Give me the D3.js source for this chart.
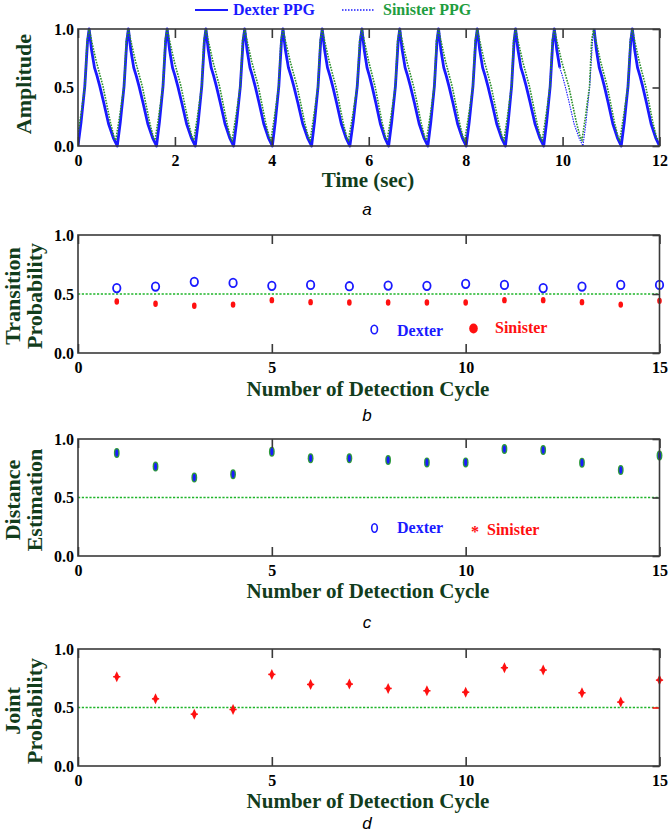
<!DOCTYPE html>
<html><head><meta charset="utf-8">
<script src="https://cdn.jsdelivr.net/npm/d3@7/dist/d3.min.js"></script>
<style>body{margin:0;background:#fff}svg{display:block}</style>
</head><body>
<svg id="chart" width="670" height="838"></svg>
<script>
// ---------------- data ----------------
const timeTicks = [0, 2, 4, 6, 8, 10, 12];
const cycleTicks = [0, 5, 10, 15];
const probTicks = [0, 0.5, 1.0];
const cycles = [1, 2, 3, 4, 5, 6, 7, 8, 9, 10, 11, 12, 13, 14, 15];
const thresholdValue = 0.5;

// Panel a: PPG beats (seconds)
const dexterTroughTimes = [0.0, 0.81, 1.62, 2.42, 3.21, 4.01, 4.82, 5.61, 6.41, 7.22, 8.01, 8.82, 9.61, 10.42, 11.21, 12.0];
const dexterPeakTimes = [0.23, 1.04, 1.84, 2.64, 3.44, 4.23, 5.04, 5.86, 6.64, 7.44, 8.24, 9.03, 9.83, 10.65, 11.44];
const sinisterTroughTimes = [-0.02, 0.78, 1.59, 2.39, 3.18, 3.98, 4.79, 5.58, 6.38, 7.19, 7.98, 8.79, 9.58, 10.40, 11.18, 11.97];
const sinisterPeakTimes = [0.23, 1.04, 1.84, 2.64, 3.44, 4.23, 5.04, 5.86, 6.64, 7.44, 8.24, 9.03, 9.83, 10.64, 11.44];
// pulse shapes: [fraction of segment, amplitude]
const dexterRiseShape = [[0, 0], [0.27, 0.2], [0.61, 0.51], [0.86, 0.9], [1, 1]];
const dexterFallShape = [[0, 1], [0.086, 0.82], [0.19, 0.67], [0.28, 0.6], [0.38, 0.51], [0.52, 0.37], [0.69, 0.19], [0.86, 0.07], [1, 0]];
const sinisterRiseShape = [[0, 0.05], [0.3, 0.25], [0.65, 0.51], [0.83, 0.9], [1, 1]];
const sinisterFallShape = [[0, 1], [0.09, 0.9], [0.27, 0.72], [0.52, 0.51], [0.8, 0.2], [0.93, 0.08], [1, 0.05]];
const dexterThinStretch = [9.95, 10.64];

// Panel b: transition probability
const transitionDexter = [0.55, 0.563, 0.603, 0.594, 0.569, 0.577, 0.566, 0.571, 0.569, 0.586, 0.577, 0.55, 0.563, 0.577, 0.577];
const transitionSinister = [0.436, 0.417, 0.40, 0.41, 0.448, 0.431, 0.428, 0.428, 0.428, 0.428, 0.448, 0.448, 0.431, 0.41, 0.442];
// Panel c: distance estimation
const distanceDexter = [0.88, 0.764, 0.67, 0.698, 0.892, 0.835, 0.835, 0.82, 0.80, 0.80, 0.915, 0.906, 0.798, 0.735, 0.858];
const distanceSinister = [0.88, 0.764, 0.67, 0.698, 0.892, 0.835, 0.835, 0.82, 0.80, 0.80, 0.915, 0.906, 0.798, 0.735, 0.858];
// Panel d: joint probability
const jointProbability = [0.763, 0.574, 0.443, 0.483, 0.783, 0.697, 0.70, 0.663, 0.643, 0.631, 0.84, 0.82, 0.626, 0.546, 0.734];

// ---------------- style ----------------
const L = 78, R = 659.5;
const frameColor = '#3a3a3a';
const titleColor = '#123d1c';
const blue = '#1a1aff', red = '#ff1010', green = '#2a8f2a', legendGreen = '#1f9d40';
const serif = "'Liberation Serif','Times New Roman',serif";

const svg = d3.select('#chart');

function buildWave(troughs, peaks, rise, fall) {
  const pts = [];
  peaks.forEach((p, i) => {
    const t0 = troughs[i], t1 = troughs[i + 1];
    rise.forEach(([f, a], j) => { if (i > 0 && j === 0) return; pts.push([t0 + f * (p - t0), a]); });
    fall.forEach(([f, a], j) => { if (j === 0) return; pts.push([p + f * (t1 - p), a]); });
  });
  return pts;
}

function frame(g, x, y, top, bottom, xTicks, yTicks, xFmt, rightTickColor) {
  const axB = d3.axisBottom(x).tickValues(xTicks).tickSize(-9).tickPadding(9).tickFormat(xFmt);
  const gb = g.append('g').attr('transform', `translate(0,${bottom})`).call(axB);
  const axT = d3.axisTop(x).tickValues(xTicks).tickSize(-9).tickFormat('');
  const gt = g.append('g').attr('transform', `translate(0,${top})`).call(axT);
  const axR = d3.axisRight(y).tickValues(yTicks).tickSize(-7).tickFormat('');
  const gr = g.append('g').attr('transform', `translate(${R},0)`).call(axR);
  const axL = d3.axisLeft(y).tickValues(yTicks).tickSize(0).tickPadding(4).tickFormat(d3.format('.1f'));
  const gl = g.append('g').attr('transform', `translate(${L},0)`).call(axL);
  [gb, gt, gr, gl].forEach(a => {
    a.select('.domain').remove();
    a.selectAll('line').attr('stroke', frameColor).attr('stroke-width', 1.6);
    a.selectAll('text').attr('fill', '#000').style('font-family', serif)
      .style('font-weight', 'bold').style('font-size', '16px');
  });
  if (rightTickColor) gr.selectAll('.tick').filter(d => d === 0.5).select('line').attr('stroke', rightTickColor);
  g.append('rect').attr('x', L).attr('y', top).attr('width', R - L).attr('height', bottom - top)
    .attr('fill', 'none').attr('stroke', frameColor).attr('stroke-width', 1.6);
}

function xTitle(text, yb) {
  svg.append('text').attr('x', 368).attr('y', yb).attr('text-anchor', 'middle')
    .style('font-family', serif).style('font-weight', 'bold').style('font-size', '21px')
    .attr('fill', titleColor).text(text);
}
function yTitle(lines, cy) {
  lines.forEach(([t, xb]) => {
    svg.append('text').attr('transform', `translate(${xb},${cy}) rotate(-90)`).attr('text-anchor', 'middle')
      .style('font-family', serif).style('font-weight', 'bold').style('font-size', '22px')
      .attr('fill', titleColor).text(t);
  });
}
function subLabel(t, yb) {
  svg.append('text').attr('x', 367).attr('y', yb).attr('text-anchor', 'middle')
    .style('font-family', "'Liberation Sans',Arial,sans-serif").style('font-style', 'italic')
    .style('font-size', '17px').attr('fill', '#000').text(t);
}
function legendText(t, x, yb, color) {
  svg.append('text').attr('x', x).attr('y', yb)
    .style('font-family', serif).style('font-weight', 'bold').style('font-size', '16px')
    .attr('fill', color).text(t);
}

// ---------------- panel a ----------------
{
  const top = 29, bottom = 146;
  const x = d3.scaleLinear().domain([0, 12]).range([L, R]);
  const y = d3.scaleLinear().domain([0, 1]).range([bottom, top]);
  svg.append('clipPath').attr('id', 'clipA').append('rect')
    .attr('x', L).attr('y', top - 2).attr('width', R - L).attr('height', bottom - top + 4);
  const g = svg.append('g');
  const dex = buildWave(dexterTroughTimes, dexterPeakTimes, dexterRiseShape, dexterFallShape);
  const sin = buildWave(sinisterTroughTimes, sinisterPeakTimes, sinisterRiseShape, sinisterFallShape);
  const line = d3.line().x(d => x(d[0])).y(d => y(d[1]));
  const pg = g.append('g').attr('clip-path', 'url(#clipA)');
  pg.append('path').attr('d', line(dex.filter(d => d[0] >= dexterThinStretch[0] - 0.06 && d[0] <= dexterThinStretch[1] + 0.02)))
    .attr('fill', 'none').attr('stroke', blue).attr('stroke-width', 1.1).attr('stroke-dasharray', '1.5,1');
  const thick = d3.line().defined(d => !(d[0] > dexterThinStretch[0] && d[0] < dexterThinStretch[1]))
    .x(d => x(d[0])).y(d => y(d[1]));
  pg.append('path').attr('d', thick(dex)).attr('fill', 'none').attr('stroke', blue)
    .attr('stroke-width', 2.8).attr('stroke-linejoin', 'round');
  pg.append('path').attr('d', line(sin)).attr('fill', 'none').attr('stroke', green)
    .attr('stroke-width', 1.6).attr('stroke-dasharray', '1.6,1.2');
  frame(g, x, y, top, bottom, timeTicks, probTicks, d3.format('d'));
  yTitle([['Amplitude', 31]], 84);
  xTitle('Time (sec)', 187);
  // legend
  svg.append('line').attr('x1', 195).attr('x2', 228).attr('y1', 10).attr('y2', 10)
    .attr('stroke', blue).attr('stroke-width', 2);
  legendText('Dexter PPG', 233, 15, blue);
  svg.append('line').attr('x1', 342).attr('x2', 374).attr('y1', 10).attr('y2', 10)
    .attr('stroke', blue).attr('stroke-width', 1.3).attr('stroke-dasharray', '1.5,1.5');
  legendText('Sinister PPG', 383, 15, legendGreen);
  subLabel('a', 215);
}

// helper for cycle panels
function cyclePanel(top, bottom) {
  const x = d3.scaleLinear().domain([0, 15]).range([L, R]);
  const y = d3.scaleLinear().domain([0, 1]).range([bottom, top]);
  const g = svg.append('g');
  g.append('line').attr('x1', L).attr('x2', R).attr('y1', y(thresholdValue)).attr('y2', y(thresholdValue))
    .attr('stroke', '#1fb52a').attr('stroke-width', 1.6).attr('stroke-dasharray', '2.2,1.6');
  return { x, y, g };
}

// ---------------- panel b ----------------
{
  const top = 235, bottom = 353;
  const { x, y, g } = cyclePanel(top, bottom);
  g.selectAll('.sd').data(cycles).enter().append('ellipse')
    .attr('cx', d => x(d)).attr('cy', (d, i) => y(transitionSinister[i])).attr('rx', 2.3).attr('ry', 3.2).attr('fill', red);
  g.selectAll('.dd').data(cycles).enter().append('ellipse')
    .attr('cx', d => x(d)).attr('cy', (d, i) => y(transitionDexter[i])).attr('rx', 3.7).attr('ry', 4.2)
    .attr('fill', 'none').attr('stroke', blue).attr('stroke-width', 1.8);
  frame(g, x, y, top, bottom, cycleTicks, probTicks, d3.format('d'));
  yTitle([['Transition', 19.5], ['Probability', 41.5]], 296);
  xTitle('Number of Detection Cycle', 396);
  svg.append('ellipse').attr('cx', 374.3).attr('cy', 329.5).attr('rx', 3.2).attr('ry', 4.3)
    .attr('fill', 'none').attr('stroke', blue).attr('stroke-width', 1.6);
  legendText('Dexter', 397, 336, blue);
  svg.append('ellipse').attr('cx', 473.5).attr('cy', 328.5).attr('rx', 4.3).attr('ry', 4.9).attr('fill', red);
  legendText('Sinister', 495, 333, red);
  subLabel('b', 421);
}

// ---------------- panel c ----------------
{
  const top = 439, bottom = 556;
  const { x, y, g } = cyclePanel(top, bottom);
  g.selectAll('.cd').data(cycles).enter().append('ellipse')
    .attr('cx', d => x(d)).attr('cy', (d, i) => y(distanceDexter[i])).attr('rx', 2.9).attr('ry', 5)
    .attr('fill', '#2f9a3c');
  g.selectAll('.cs').data(cycles).enter().append('ellipse')
    .attr('cx', d => x(d)).attr('cy', (d, i) => y(distanceSinister[i])).attr('rx', 1.5).attr('ry', 3.8)
    .attr('fill', blue);
  frame(g, x, y, top, bottom, cycleTicks, probTicks, d3.format('d'));
  yTitle([['Distance', 19.5], ['Estimation', 41.5]], 500);
  xTitle('Number of Detection Cycle', 598);
  svg.append('ellipse').attr('cx', 374.5).attr('cy', 528).attr('rx', 2.8).attr('ry', 4.2)
    .attr('fill', 'none').attr('stroke', blue).attr('stroke-width', 1.6);
  legendText('Dexter', 397, 533, blue);
  svg.append('text').attr('x', 475).attr('y', 536.5).attr('text-anchor', 'middle')
    .style('font-family', serif).style('font-weight', 'bold').style('font-size', '16px').attr('fill', red).text('*');
  legendText('Sinister', 487, 535, red);
  subLabel('c', 628);
}

// ---------------- panel d ----------------
{
  const top = 649, bottom = 766;
  const { x, y, g } = cyclePanel(top, bottom);
  const star = 'M0,-5.5L2.6,0L0,5.5L-2.6,0Z';
  const mk = g.selectAll('.jd').data(cycles).enter().append('g')
    .attr('transform', (d, i) => `translate(${x(d)},${y(jointProbability[i])})`);
  mk.append('path').attr('d', star).attr('fill', red);
  mk.append('line').attr('x1', -3.6).attr('x2', 3.6).attr('y1', 0).attr('y2', 0)
    .attr('stroke', red).attr('stroke-width', 1.5);
  frame(g, x, y, top, bottom, cycleTicks, probTicks, d3.format('d'), red);
  yTitle([['Joint', 19.5], ['Probability', 41.5]], 711);
  xTitle('Number of Detection Cycle', 808);
  subLabel('d', 829);
}
</script>
</body></html>
